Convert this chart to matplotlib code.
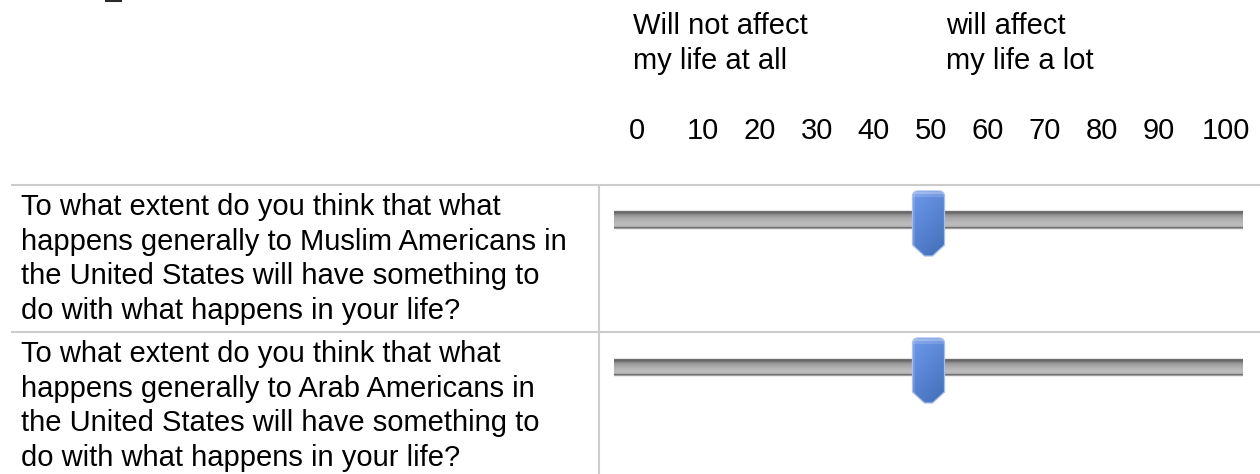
import numpy as np
import matplotlib
matplotlib.use("Agg")
import matplotlib.pyplot as plt
from matplotlib.path import Path
from matplotlib.patches import PathPatch
from matplotlib import transforms

plt.rcParams['font.family'] = ['Liberation Sans', 'DejaVu Sans']

# ---------------- data ----------------
anchor_labels = ["Will not affect\nmy life at all", "will affect\nmy life a lot"]
scale_ticks = [0, 10, 20, 30, 40, 50, 60, 70, 80, 90, 100]
tick_labels = [str(t) for t in scale_ticks]
questions = [
    "To what extent do you think that what\nhappens generally to Muslim Americans in\n"
    "the United States will have something to\ndo with what happens in your life?",
    "To what extent do you think that what\nhappens generally to Arab Americans in\n"
    "the United States will have something to\ndo with what happens in your life?",
]
slider_values = [50, 50]

# ---------------- layout ----------------
W, H = 1260, 474
DPI = 100
fig = plt.figure(figsize=(W / DPI, H / DPI), dpi=DPI)
fig.patch.set_facecolor('white')


def px_axes(x0, y0, x1, y1):
    """axes given by a pixel box measured from the top-left corner"""
    ax = fig.add_axes([x0 / W, 1 - y1 / H, (x1 - x0) / W, (y1 - y0) / H])
    ax.axis('off')
    return ax


base = px_axes(0, 0, W, H)
base.set_xlim(0, W)
base.set_ylim(H, 0)

FS = 21
LS = 1.31
GRID = '#cccccc'
ROW_STEP = 147

# stray underscore fragment at the top-left edge
base.plot([105, 122], [0.7, 0.7], color='#2a2a2a', lw=1.5, solid_capstyle='butt')

# header anchor labels
base.text(633, 11.7, anchor_labels[0], va='top', ha='left', fontsize=FS,
          linespacing=LS, color='black')
base.text(946, 11.7, anchor_labels[1], va='top', ha='left', fontsize=FS,
          linespacing=LS, color='black')

# scale numbers (the end labels sit a little outside the even spacing)
lab_ax = px_axes(646, 100, 1216, 150)
lab_ax.set_xlim(0, 100)
lab_ax.set_ylim(150, 100)
end_shift_px = {0: -9, 100: 10}
for t, lab in zip(scale_ticks, tick_labels):
    tr = transforms.offset_copy(lab_ax.transData, fig=fig,
                                x=end_shift_px.get(t, 0) * 72 / DPI, y=0, units='points')
    lab_ax.text(t, 139, lab, ha='center', va='baseline', fontsize=FS,
                color='black', transform=tr)

# grid lines of the table
for i in range(len(questions)):
    y = 185 + i * ROW_STEP
    base.plot([11, W], [y, y], color=GRID, lw=1.5, solid_capstyle='butt')
base.plot([599, 599], [185, H], color=GRID, lw=1.5, solid_capstyle='butt')

# track gradient (top -> bottom)
track_gray = np.array([0.90, 0.44, 0.41, 0.46, 0.54, 0.59, 0.62, 0.65, 0.67, 0.69,
                       0.71, 0.72, 0.73, 0.74, 0.72, 0.68, 0.44, 0.62, 0.93])
track_img = np.repeat(track_gray[:, None, None], 3, axis=2)

# handle gradient
hw, hh = 32, 65
yy, xx = np.mgrid[0:hh, 0:hw]
t = 0.35 * (xx / (hw - 1)) + 0.65 * (yy / (hh - 1))
c_light = np.array([0.43, 0.60, 0.92])
c_dark = np.array([0.26, 0.43, 0.72])
handle_img = c_light[None, None, :] * (1 - t[..., None]) + c_dark[None, None, :] * t[..., None]
hl = np.zeros((hh, hw))
hl[1:3, :] = 0.35
hl[3:6, :] = 0.15
hl[:, 0:2] += 0.12
handle_img = handle_img + (1 - handle_img) * hl[..., None]
handle_img = np.clip(handle_img, 0, 1)


def handle_path():
    w2, r, side, tip, flat = 16, 5, 54, 65, 4
    pts = []
    for a in np.linspace(np.pi, 1.5 * np.pi, 7):
        pts.append((-w2 + r + r * np.cos(a), r + r * np.sin(a)))
    for a in np.linspace(1.5 * np.pi, 2 * np.pi, 7):
        pts.append((w2 - r + r * np.cos(a), r + r * np.sin(a)))
    pts += [(w2, side), (flat, tip), (-flat, tip), (-w2, side), (-w2, r)]
    codes = [Path.MOVETO] + [Path.LINETO] * (len(pts) - 2) + [Path.CLOSEPOLY]
    return Path(pts, codes)


for i, (q, v) in enumerate(zip(questions, slider_values)):
    off = i * ROW_STEP
    base.text(21, 192.7 + off, q, va='top', ha='left', fontsize=FS,
              linespacing=LS, color='black')

    ax = px_axes(614, 188 + off, 1243, 260 + off)
    ax.set_xlim(0, 100)
    ax.set_ylim(72, 0)
    ax.set_autoscale_on(False)
    ax.imshow(track_img, extent=(0, 100, 42, 23), aspect='auto',
              interpolation='nearest', zorder=1)

    # handle: pixel-sized shape anchored at the slider value
    T = transforms.Affine2D().scale(1, -1) + transforms.ScaledTranslation(v, 3, ax.transData)
    patch = PathPatch(handle_path(), transform=T, facecolor='none',
                      edgecolor='#a8bfea', lw=0.9, zorder=4)
    im = ax.imshow(handle_img, extent=(-16, 16, 65, 0), aspect='auto',
                   interpolation='bilinear', transform=T, zorder=3)
    im.set_clip_path(patch)
    ax.add_patch(patch)
    ax.set_xlim(0, 100)
    ax.set_ylim(72, 0)

fig.savefig('out.png', dpi=DPI, facecolor='white')
